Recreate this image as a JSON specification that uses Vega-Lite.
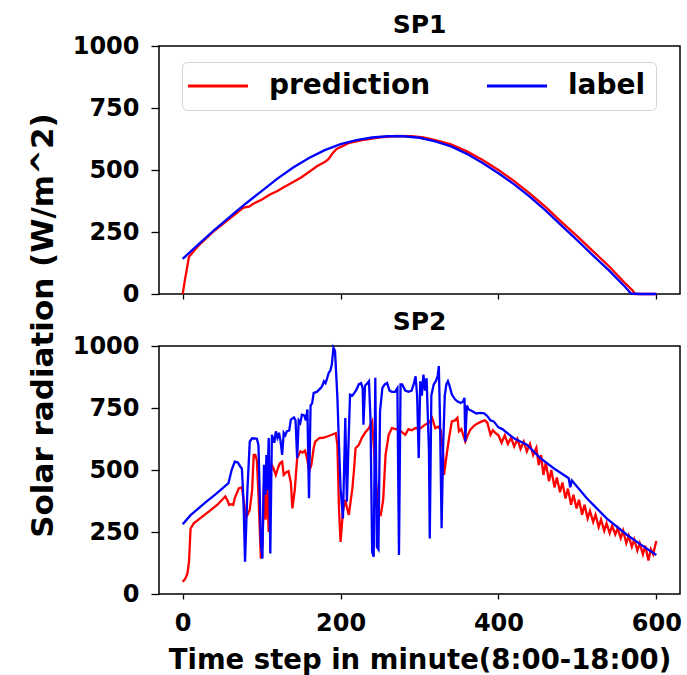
{
"$schema": "https://vega.github.io/schema/vega-lite/v6.json",
"autosize": {"type": "pad"},
"padding": {"left": 26, "top": 12, "right": 4, "bottom": 0},
"background": "#ffffff",
"datasets": {
"sp1": [
{"s":"prediction","t":0,"v":0},{"s":"prediction","t":3,"v":60},{"s":"prediction","t":8,"v":150},{"s":"prediction","t":12,"v":165},{"s":"prediction","t":20,"v":195},{"s":"prediction","t":40,"v":255},{"s":"prediction","t":60,"v":305},{"s":"prediction","t":77,"v":348},{"s":"prediction","t":84,"v":352},{"s":"prediction","t":90,"v":365},{"s":"prediction","t":100,"v":380},{"s":"prediction","t":110,"v":400},{"s":"prediction","t":120,"v":415},{"s":"prediction","t":128,"v":430},{"s":"prediction","t":140,"v":452},{"s":"prediction","t":150,"v":470},{"s":"prediction","t":160,"v":492},{"s":"prediction","t":170,"v":515},{"s":"prediction","t":180,"v":532},{"s":"prediction","t":185,"v":545},{"s":"prediction","t":190,"v":568},{"s":"prediction","t":195,"v":585},{"s":"prediction","t":210,"v":608},{"s":"prediction","t":230,"v":622},{"s":"prediction","t":250,"v":632},{"s":"prediction","t":270,"v":637},{"s":"prediction","t":290,"v":636},{"s":"prediction","t":305,"v":632},{"s":"prediction","t":320,"v":620},{"s":"prediction","t":340,"v":603},{"s":"prediction","t":360,"v":575},{"s":"prediction","t":380,"v":540},{"s":"prediction","t":400,"v":500},{"s":"prediction","t":420,"v":455},{"s":"prediction","t":440,"v":405},{"s":"prediction","t":460,"v":350},{"s":"prediction","t":480,"v":290},{"s":"prediction","t":500,"v":232},{"s":"prediction","t":520,"v":172},{"s":"prediction","t":540,"v":112},{"s":"prediction","t":560,"v":45},{"s":"prediction","t":570,"v":14},{"s":"prediction","t":573,"v":0},{"s":"prediction","t":600,"v":0},
{"s":"label","t":0,"v":142},{"s":"label","t":20,"v":200},{"s":"label","t":40,"v":258},{"s":"label","t":60,"v":312},{"s":"label","t":80,"v":365},{"s":"label","t":100,"v":415},{"s":"label","t":120,"v":465},{"s":"label","t":140,"v":510},{"s":"label","t":160,"v":548},{"s":"label","t":180,"v":580},{"s":"label","t":200,"v":604},{"s":"label","t":220,"v":620},{"s":"label","t":240,"v":631},{"s":"label","t":260,"v":636},{"s":"label","t":280,"v":636},{"s":"label","t":300,"v":630},{"s":"label","t":320,"v":615},{"s":"label","t":340,"v":595},{"s":"label","t":360,"v":565},{"s":"label","t":380,"v":528},{"s":"label","t":400,"v":487},{"s":"label","t":420,"v":442},{"s":"label","t":440,"v":392},{"s":"label","t":460,"v":336},{"s":"label","t":480,"v":276},{"s":"label","t":500,"v":216},{"s":"label","t":520,"v":155},{"s":"label","t":540,"v":95},{"s":"label","t":560,"v":30},{"s":"label","t":568,"v":2},{"s":"label","t":580,"v":0},{"s":"label","t":600,"v":0}
],
"sp2": [
{"s":"prediction","t":0,"v":49},{"s":"prediction","t":3,"v":60},{"s":"prediction","t":6,"v":82},{"s":"prediction","t":8,"v":130},{"s":"prediction","t":10,"v":264},{"s":"prediction","t":14,"v":285},{"s":"prediction","t":20,"v":300},{"s":"prediction","t":26,"v":315},{"s":"prediction","t":33,"v":332},{"s":"prediction","t":38,"v":345},{"s":"prediction","t":44,"v":360},{"s":"prediction","t":50,"v":380},{"s":"prediction","t":54,"v":393},{"s":"prediction","t":57,"v":375},{"s":"prediction","t":59,"v":359},{"s":"prediction","t":62,"v":362},{"s":"prediction","t":64,"v":359},{"s":"prediction","t":66,"v":387},{"s":"prediction","t":69,"v":410},{"s":"prediction","t":71,"v":426},{"s":"prediction","t":75,"v":430},{"s":"prediction","t":78,"v":360},{"s":"prediction","t":80,"v":310},{"s":"prediction","t":82,"v":318},{"s":"prediction","t":85,"v":340},{"s":"prediction","t":88,"v":420},{"s":"prediction","t":90,"v":561},{"s":"prediction","t":92,"v":561},{"s":"prediction","t":94,"v":540},{"s":"prediction","t":96,"v":400},{"s":"prediction","t":99,"v":143},{"s":"prediction","t":101,"v":200},{"s":"prediction","t":103,"v":440},{"s":"prediction","t":105,"v":300},{"s":"prediction","t":107,"v":420},{"s":"prediction","t":109,"v":250},{"s":"prediction","t":111,"v":480},{"s":"prediction","t":113,"v":520},{"s":"prediction","t":115,"v":507},{"s":"prediction","t":118,"v":480},{"s":"prediction","t":120,"v":500},{"s":"prediction","t":122,"v":520},{"s":"prediction","t":124,"v":530},{"s":"prediction","t":126,"v":534},{"s":"prediction","t":128,"v":480},{"s":"prediction","t":131,"v":490},{"s":"prediction","t":134,"v":495},{"s":"prediction","t":137,"v":450},{"s":"prediction","t":139,"v":345},{"s":"prediction","t":142,"v":420},{"s":"prediction","t":145,"v":548},{"s":"prediction","t":147,"v":560},{"s":"prediction","t":149,"v":575},{"s":"prediction","t":152,"v":570},{"s":"prediction","t":155,"v":578},{"s":"prediction","t":158,"v":540},{"s":"prediction","t":160,"v":494},{"s":"prediction","t":163,"v":520},{"s":"prediction","t":166,"v":590},{"s":"prediction","t":168,"v":615},{"s":"prediction","t":170,"v":620},{"s":"prediction","t":173,"v":629},{"s":"prediction","t":178,"v":630},{"s":"prediction","t":183,"v":635},{"s":"prediction","t":189,"v":642},{"s":"prediction","t":194,"v":649},{"s":"prediction","t":196,"v":600},{"s":"prediction","t":198,"v":345},{"s":"prediction","t":200,"v":210},{"s":"prediction","t":203,"v":334},{"s":"prediction","t":206,"v":380},{"s":"prediction","t":208,"v":350},{"s":"prediction","t":210.5,"v":319},{"s":"prediction","t":213,"v":380},{"s":"prediction","t":215,"v":426},{"s":"prediction","t":217,"v":500},{"s":"prediction","t":219,"v":588},{"s":"prediction","t":223,"v":600},{"s":"prediction","t":227,"v":630},{"s":"prediction","t":231,"v":650},{"s":"prediction","t":236,"v":669},{"s":"prediction","t":240,"v":696},{"s":"prediction","t":242,"v":600},{"s":"prediction","t":245,"v":450},{"s":"prediction","t":248,"v":330},{"s":"prediction","t":251,"v":320},{"s":"prediction","t":254,"v":380},{"s":"prediction","t":257,"v":561},{"s":"prediction","t":261,"v":642},{"s":"prediction","t":265,"v":669},{"s":"prediction","t":270,"v":665},{"s":"prediction","t":275,"v":660},{"s":"prediction","t":282,"v":642},{"s":"prediction","t":286,"v":665},{"s":"prediction","t":290,"v":660},{"s":"prediction","t":295,"v":669},{"s":"prediction","t":300,"v":665},{"s":"prediction","t":307,"v":683},{"s":"prediction","t":312,"v":690},{"s":"prediction","t":316,"v":710},{"s":"prediction","t":320,"v":669},{"s":"prediction","t":324,"v":675},{"s":"prediction","t":327,"v":660},{"s":"prediction","t":330,"v":560},{"s":"prediction","t":331,"v":480},{"s":"prediction","t":335,"v":575},{"s":"prediction","t":338,"v":640},{"s":"prediction","t":341,"v":696},{"s":"prediction","t":345,"v":700},{"s":"prediction","t":348,"v":710},{"s":"prediction","t":350,"v":656},{"s":"prediction","t":353,"v":665},{"s":"prediction","t":358,"v":615},{"s":"prediction","t":361,"v":640},{"s":"prediction","t":364.5,"v":663},{"s":"prediction","t":368,"v":675},{"s":"prediction","t":371,"v":683},{"s":"prediction","t":375,"v":690},{"s":"prediction","t":379,"v":696},{"s":"prediction","t":383,"v":700},{"s":"prediction","t":386,"v":690},{"s":"prediction","t":390,"v":642},{"s":"prediction","t":393,"v":660},{"s":"prediction","t":396,"v":650},{"s":"prediction","t":400,"v":640},{"s":"prediction","t":404,"v":610},{"s":"prediction","t":408,"v":640},{"s":"prediction","t":412,"v":605},{"s":"prediction","t":416,"v":630},{"s":"prediction","t":420,"v":595},{"s":"prediction","t":424,"v":625},{"s":"prediction","t":428,"v":585},{"s":"prediction","t":432,"v":615},{"s":"prediction","t":436,"v":575},{"s":"prediction","t":440,"v":605},{"s":"prediction","t":444,"v":560},{"s":"prediction","t":448,"v":590},{"s":"prediction","t":451,"v":520},{"s":"prediction","t":454,"v":560},{"s":"prediction","t":457,"v":480},{"s":"prediction","t":460,"v":530},{"s":"prediction","t":464,"v":455},{"s":"prediction","t":467,"v":500},{"s":"prediction","t":471,"v":430},{"s":"prediction","t":474,"v":470},{"s":"prediction","t":478,"v":410},{"s":"prediction","t":481,"v":450},{"s":"prediction","t":485,"v":385},{"s":"prediction","t":488,"v":425},{"s":"prediction","t":492,"v":360},{"s":"prediction","t":495,"v":400},{"s":"prediction","t":499,"v":345},{"s":"prediction","t":502,"v":380},{"s":"prediction","t":506,"v":320},{"s":"prediction","t":509,"v":360},{"s":"prediction","t":513,"v":305},{"s":"prediction","t":516,"v":335},{"s":"prediction","t":520,"v":290},{"s":"prediction","t":523,"v":320},{"s":"prediction","t":527,"v":270},{"s":"prediction","t":530,"v":300},{"s":"prediction","t":534,"v":255},{"s":"prediction","t":537,"v":285},{"s":"prediction","t":541,"v":245},{"s":"prediction","t":544,"v":275},{"s":"prediction","t":548,"v":240},{"s":"prediction","t":551,"v":265},{"s":"prediction","t":555,"v":225},{"s":"prediction","t":558,"v":255},{"s":"prediction","t":562,"v":205},{"s":"prediction","t":565,"v":235},{"s":"prediction","t":569,"v":190},{"s":"prediction","t":572,"v":220},{"s":"prediction","t":576,"v":175},{"s":"prediction","t":579,"v":205},{"s":"prediction","t":583,"v":160},{"s":"prediction","t":586,"v":195},{"s":"prediction","t":590,"v":135},{"s":"prediction","t":593,"v":180},{"s":"prediction","t":596,"v":160},{"s":"prediction","t":600,"v":214},
{"s":"label","t":0,"v":281},{"s":"label","t":10,"v":318},{"s":"label","t":20,"v":345},{"s":"label","t":30,"v":372},{"s":"label","t":40,"v":398},{"s":"label","t":50,"v":425},{"s":"label","t":58,"v":447},{"s":"label","t":62,"v":500},{"s":"label","t":66,"v":534},{"s":"label","t":70,"v":530},{"s":"label","t":73,"v":514},{"s":"label","t":75,"v":505},{"s":"label","t":77,"v":380},{"s":"label","t":79,"v":130},{"s":"label","t":82,"v":420},{"s":"label","t":85,"v":615},{"s":"label","t":88,"v":628},{"s":"label","t":94,"v":626},{"s":"label","t":96,"v":600},{"s":"label","t":98,"v":350},{"s":"label","t":99,"v":210},{"s":"label","t":101,"v":143},{"s":"label","t":103,"v":521},{"s":"label","t":105,"v":400},{"s":"label","t":106,"v":560},{"s":"label","t":107,"v":420},{"s":"label","t":109,"v":629},{"s":"label","t":111,"v":163},{"s":"label","t":113,"v":642},{"s":"label","t":116,"v":610},{"s":"label","t":118,"v":656},{"s":"label","t":120,"v":630},{"s":"label","t":122,"v":650},{"s":"label","t":124,"v":615},{"s":"label","t":126,"v":561},{"s":"label","t":128,"v":650},{"s":"label","t":130,"v":640},{"s":"label","t":132,"v":656},{"s":"label","t":135,"v":660},{"s":"label","t":137,"v":703},{"s":"label","t":141,"v":712},{"s":"label","t":143,"v":700},{"s":"label","t":145,"v":548},{"s":"label","t":147,"v":700},{"s":"label","t":149,"v":690},{"s":"label","t":151,"v":723},{"s":"label","t":154,"v":720},{"s":"label","t":156,"v":700},{"s":"label","t":158,"v":744},{"s":"label","t":160,"v":386},{"s":"label","t":162,"v":760},{"s":"label","t":164,"v":770},{"s":"label","t":166,"v":811},{"s":"label","t":170,"v":815},{"s":"label","t":175,"v":831},{"s":"label","t":177,"v":840},{"s":"label","t":179,"v":858},{"s":"label","t":181,"v":850},{"s":"label","t":183,"v":870},{"s":"label","t":185,"v":892},{"s":"label","t":187,"v":900},{"s":"label","t":189,"v":926},{"s":"label","t":191,"v":993},{"s":"label","t":193,"v":980},{"s":"label","t":196,"v":791},{"s":"label","t":198,"v":600},{"s":"label","t":200,"v":426},{"s":"label","t":203,"v":305},{"s":"label","t":206,"v":710},{"s":"label","t":208,"v":372},{"s":"label","t":210,"v":600},{"s":"label","t":212,"v":804},{"s":"label","t":215,"v":800},{"s":"label","t":219,"v":818},{"s":"label","t":221,"v":830},{"s":"label","t":223,"v":845},{"s":"label","t":226,"v":850},{"s":"label","t":228,"v":830},{"s":"label","t":229,"v":683},{"s":"label","t":231,"v":840},{"s":"label","t":234,"v":850},{"s":"label","t":236,"v":858},{"s":"label","t":238,"v":696},{"s":"label","t":240,"v":170},{"s":"label","t":242,"v":150},{"s":"label","t":244,"v":872},{"s":"label","t":246,"v":190},{"s":"label","t":248,"v":180},{"s":"label","t":250,"v":737},{"s":"label","t":253,"v":831},{"s":"label","t":256,"v":845},{"s":"label","t":259,"v":851},{"s":"label","t":262,"v":820},{"s":"label","t":265,"v":815},{"s":"label","t":269,"v":815},{"s":"label","t":272,"v":830},{"s":"label","t":274,"v":157},{"s":"label","t":276,"v":845},{"s":"label","t":278,"v":845},{"s":"label","t":282,"v":820},{"s":"label","t":286,"v":815},{"s":"label","t":290,"v":820},{"s":"label","t":293,"v":850},{"s":"label","t":295,"v":878},{"s":"label","t":297,"v":800},{"s":"label","t":299,"v":548},{"s":"label","t":301,"v":858},{"s":"label","t":303,"v":800},{"s":"label","t":305,"v":885},{"s":"label","t":307,"v":820},{"s":"label","t":309,"v":870},{"s":"label","t":312,"v":575},{"s":"label","t":313,"v":224},{"s":"label","t":315,"v":800},{"s":"label","t":318,"v":845},{"s":"label","t":321,"v":860},{"s":"label","t":323,"v":880},{"s":"label","t":324.5,"v":919},{"s":"label","t":326,"v":700},{"s":"label","t":328,"v":265},{"s":"label","t":330,"v":600},{"s":"label","t":332,"v":800},{"s":"label","t":334,"v":845},{"s":"label","t":336,"v":858},{"s":"label","t":338,"v":840},{"s":"label","t":341,"v":804},{"s":"label","t":345,"v":785},{"s":"label","t":348,"v":777},{"s":"label","t":352,"v":770},{"s":"label","t":355,"v":775},{"s":"label","t":357,"v":791},{"s":"label","t":358,"v":615},{"s":"label","t":360,"v":760},{"s":"label","t":362,"v":745},{"s":"label","t":367,"v":737},{"s":"label","t":372,"v":728},{"s":"label","t":377,"v":730},{"s":"label","t":382,"v":728},{"s":"label","t":386,"v":717},{"s":"label","t":390,"v":700},{"s":"label","t":394,"v":696},{"s":"label","t":400,"v":672},{"s":"label","t":405,"v":665},{"s":"label","t":419,"v":629},{"s":"label","t":436,"v":602},{"s":"label","t":453,"v":548},{"s":"label","t":470,"v":507},{"s":"label","t":489,"v":467},{"s":"label","t":491,"v":430},{"s":"label","t":493,"v":458},{"s":"label","t":512,"v":386},{"s":"label","t":537,"v":305},{"s":"label","t":563,"v":238},{"s":"label","t":580,"v":200},{"s":"label","t":600,"v":157}
]
},
"spacing": 52,
"bounds": "flush",
"resolve": {"legend": {"color": "independent"}},
"vconcat": [
{
"width": 521, "height": 248,
"title": {"text": "SP1", "offset": -24, "baseline": "alphabetic"},
"data": {"name": "sp1"},
"encoding": {
"x": {"field": "t", "type": "quantitative", "scale": {"domain": [-30, 630], "nice": false, "zero": false}, "axis": {"values": [0, 200, 400, 600], "labels": false, "title": null, "tickSize": 5}},
"y": {"field": "v", "type": "quantitative", "scale": {"domain": [0, 1000], "nice": false}, "axis": {"values": [0, 250, 500, 750, 1000], "format": "d", "title": "Solar radiation (W/m^2)", "tickSize": 8, "labelPadding": 12, "titleFontSize": 31, "titleX": -116, "titleY": 279, "titleAngle": -90, "titleAlign": "center", "titleBaseline": "middle"}},
"color": {"field": "s", "type": "nominal", "scale": {"domain": ["prediction", "label"], "range": ["#ff0000", "#0000ff"]},
"legend": {"orient": "none", "legendX": 23, "legendY": 16, "direction": "horizontal", "title": null, "symbolType": "M-2.5,0H2.5", "symbolSize": 576, "symbolOffset": 12, "symbolStrokeWidth": 3, "labelFontSize": 28, "labelLimit": 400, "labelFont": "DejaVu Sans", "labelFontWeight": "bold", "labelColor": "#000", "labelOffset": 37, "columnPadding": 50, "padding": 10, "strokeColor": "#d3d3d3", "fillColor": "#ffffff", "cornerRadius": 5}}
},
"layer": [
{"transform": [{"filter": "datum.s == 'prediction'"}], "mark": {"type": "line", "strokeWidth": 2.3}},
{"transform": [{"filter": "datum.s == 'label'"}], "mark": {"type": "line", "strokeWidth": 2.3}}
]
},
{
"width": 521, "height": 248,
"title": {"text": "SP2", "offset": -21, "baseline": "alphabetic"},
"data": {"name": "sp2"},
"encoding": {
"x": {"field": "t", "type": "quantitative", "scale": {"domain": [-30, 630], "nice": false, "zero": false}, "axis": {"values": [0, 200, 400, 600], "title": "Time step in minute(8:00-18:00)", "tickSize": 5, "labelPadding": 12, "titleFontSize": 27.5, "titleY": 66, "titleBaseline": "middle"}},
"y": {"field": "v", "type": "quantitative", "scale": {"domain": [0, 1000], "nice": false}, "axis": {"values": [0, 250, 500, 750, 1000], "format": "d", "title": null, "tickSize": 8, "labelPadding": 12}},
"color": {"field": "s", "type": "nominal", "scale": {"domain": ["prediction", "label"], "range": ["#ff0000", "#0000ff"]}, "legend": null}
},
"layer": [
{"transform": [{"filter": "datum.s == 'prediction'"}], "mark": {"type": "line", "strokeWidth": 2.3}},
{"transform": [{"filter": "datum.s == 'label'"}], "mark": {"type": "line", "strokeWidth": 2.3}}
]
}
],
"config": {
"font": "DejaVu Sans",
"view": {"stroke": "#000000", "strokeWidth": 1.5},
"axis": {"grid": false, "domain": false, "tickColor": "#000", "tickWidth": 1.3, "labelColor": "#000", "labelFont": "DejaVu Sans", "labelFontWeight": "bold", "labelFontSize": 24, "titleFont": "DejaVu Sans", "titleFontWeight": "bold", "titleColor": "#000"},
"title": {"font": "DejaVu Sans", "fontSize": 25, "fontWeight": "bold", "color": "#000", "anchor": "middle"}
}
}
